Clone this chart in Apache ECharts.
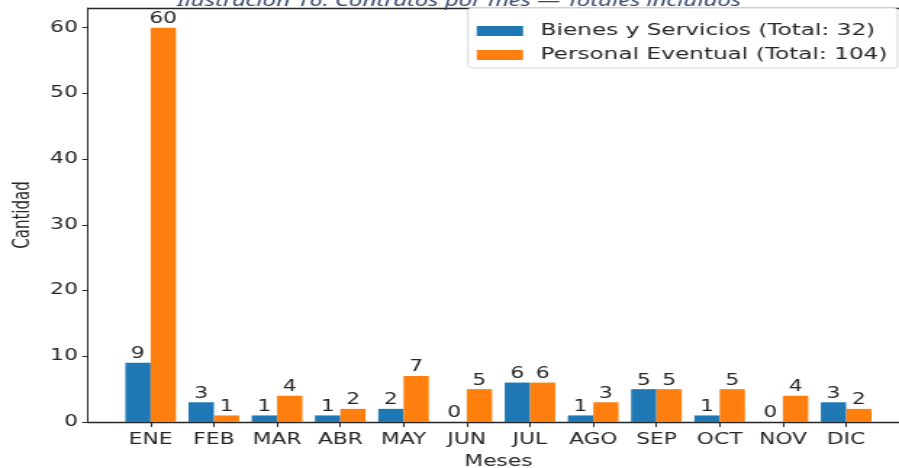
<!DOCTYPE html>
<html>
<head>
<meta charset="utf-8">
<script src="https://cdn.jsdelivr.net/npm/echarts@6/dist/echarts.min.js"></script>
<style>
  html, body { margin: 0; padding: 0; background: #fff; overflow: hidden; }
  /* la figura original esta estirada en horizontal: se dibuja mas estrecha y se escala */
  #chart { width: 620px; height: 468px; transform: scale(1.45, 1); transform-origin: 0 0; }
</style>
</head>
<body>
<div id="chart"></div>
<script>
// datos
var meses = ['ENE', 'FEB', 'MAR', 'ABR', 'MAY', 'JUN', 'JUL', 'AGO', 'SEP', 'OCT', 'NOV', 'DIC'];
var bienes = [9, 3, 1, 1, 2, 0, 6, 1, 5, 1, 0, 3];
var eventual = [60, 1, 4, 2, 7, 5, 6, 3, 5, 5, 4, 2];
var yTicks = [0, 10, 20, 30, 40, 50, 60];

var sum = function (a) { return a.reduce(function (s, v) { return s + v; }, 0); };
var pos = meses.map(function (m, i) { return i; });
var font = 'DejaVu Sans';
var ink = '#262626';

var labelStyle = {
    show: true,
    position: 'top',
    distance: 1,
    fontFamily: font,
    fontSize: 15,
    color: ink
};

var chart = echarts.init(document.getElementById('chart'));
chart.setOption({
    animation: false,
    title: {
        text: 'Ilustración 16: Contratos por mes — Totales incluidos',
        left: 117,
        top: -12,
        textStyle: {
            fontFamily: 'Noto Sans',
            fontStyle: 'italic',
            fontWeight: 'normal',
            fontSize: 16.5,
            color: '#3a4a6e'
        }
    },
    legend: {
        right: 1,
        top: 8,
        orient: 'vertical',
        icon: 'rect',
        itemWidth: 32,
        itemHeight: 10,
        itemGap: 8,
        padding: [15, 7, 5, 6],
        backgroundColor: '#fff',
        borderColor: '#d9d9d9',
        borderWidth: 1,
        borderRadius: 3,
        textStyle: { fontFamily: font, fontSize: 16, color: ink, padding: [0, 0, 0, 7] },
        data: [
            'Bienes y Servicios (Total: ' + sum(bienes) + ')',
            'Personal Eventual (Total: ' + sum(eventual) + ')'
        ]
    },
    grid: { left: 60.7, top: 8, width: 566, bottom: 46, containLabel: false, outerBoundsMode: 'none' },
    xAxis: [
        {
            type: 'value',
            min: -0.99,
            max: 11.99,
            name: 'Meses',
            nameLocation: 'middle',
            nameGap: 33,
            nameTextStyle: { fontFamily: font, fontSize: 15, color: ink },
            axisLine: { show: true, onZero: false, lineStyle: { color: ink, width: 1.3 } },
            axisTick: { show: true, length: 5, customValues: pos, lineStyle: { color: ink } },
            axisLabel: {
                customValues: pos,
                margin: 11,
                fontFamily: font,
                fontSize: 15,
                color: ink,
                formatter: function (v) { return meses[Math.round(v)]; }
            },
            splitLine: { show: false }
        },
        {
            type: 'value',
            position: 'top',
            min: -0.99,
            max: 11.99,
            axisLine: { show: true, onZero: false, lineStyle: { color: ink, width: 1.3 } },
            axisTick: { show: false },
            axisLabel: { show: false },
            splitLine: { show: false }
        }
    ],
    yAxis: {
        type: 'value',
        min: 0,
        max: 63,
        name: 'Cantidad',
        nameLocation: 'middle',
        nameGap: 37,
        nameTextStyle: { fontFamily: font, fontSize: 15, color: ink },
        axisLine: { show: true, onZero: false, lineStyle: { color: ink, width: 1 } },
        axisTick: { show: true, length: 4, customValues: yTicks, lineStyle: { color: ink } },
        axisLabel: {
            customValues: yTicks,
            margin: 7,
            fontFamily: font,
            fontSize: 15,
            color: ink
        },
        splitLine: { show: false }
    },
    series: [
        {
            name: 'Bienes y Servicios (Total: ' + sum(bienes) + ')',
            type: 'bar',
            barWidth: 17.45,
            barGap: '0%',
            itemStyle: { color: '#1f77b4' },
            label: labelStyle,
            data: bienes.map(function (v, i) { return [i, v]; })
        },
        {
            name: 'Personal Eventual (Total: ' + sum(eventual) + ')',
            type: 'bar',
            barWidth: 17.45,
            barGap: '0%',
            itemStyle: { color: '#ff7f0e' },
            label: labelStyle,
            data: eventual.map(function (v, i) { return [i, v]; })
        }
    ]
});
</script>
</body>
</html>
